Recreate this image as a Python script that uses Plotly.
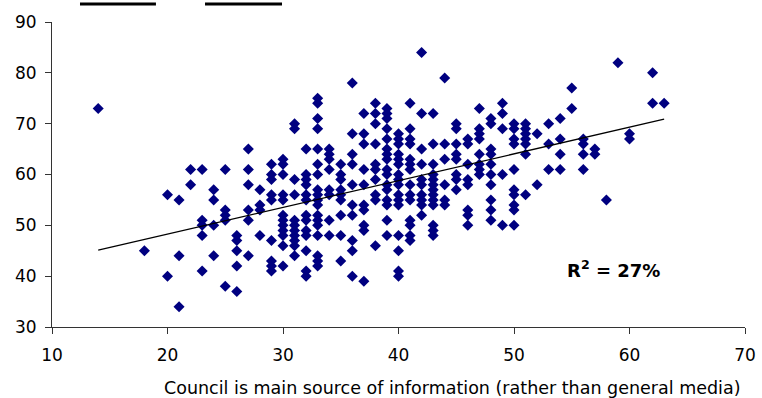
import plotly.graph_objects as go

# Scatter data: x value -> list of y values in that column
col_x = [14, 18, 20, 21, 22, 23, 24, 25, 26, 27, 28, 29, 30, 31, 32, 33, 34, 35, 36,
         37, 38, 39, 40, 41, 42, 43, 44, 45, 46, 47, 48, 49, 50, 51, 52, 53, 54, 55,
         56, 57, 58, 59, 60, 62, 63]
col_y = [
    [73],
    [45],
    [56, 40],
    [55, 44, 34],
    [61, 58],
    [61, 51, 50, 48, 41],
    [57, 55, 50, 44],
    [61, 53, 52, 51, 38],
    [48, 47, 45, 42, 37],
    [65, 61, 58, 53, 51, 44],
    [57, 54, 53, 48],
    [62, 60, 59, 56, 55, 47, 43, 42, 41],
    [63, 62, 60, 56, 55, 52, 51, 50, 49, 48, 46, 42],
    [70, 69, 59, 56, 51, 50, 49, 48, 47, 46, 44],
    [65, 60, 59, 58, 56, 55, 52, 51, 49, 48, 45, 41, 40],
    [75, 74, 71, 69, 65, 62, 60, 57, 56, 55, 54, 52, 51, 50, 48, 44, 43, 42],
    [65, 64, 63, 61, 57, 56, 51, 48],
    [62, 60, 59, 57, 56, 55, 52, 48, 43],
    [78, 68, 64, 62, 58, 54, 52, 47, 45, 40],
    [72, 68, 66, 61, 58, 54, 53, 50, 49, 39],
    [74, 72, 70, 66, 62, 61, 59, 56, 55, 46],
    [73, 72, 71, 69, 67, 65, 64, 63, 61, 60, 58, 57, 55, 54, 51, 48],
    [68, 67, 66, 64, 63, 62, 60, 59, 58, 56, 55, 54, 48, 45, 41, 40],
    [74, 69, 67, 66, 63, 62, 61, 58, 56, 55, 51, 50, 48, 47],
    [84, 72, 65, 62, 59, 58, 56, 55, 54, 52],
    [72, 66, 62, 60, 59, 58, 57, 56, 55, 54, 50, 49, 48],
    [79, 66, 63, 58, 55, 54],
    [70, 69, 66, 64, 63, 60, 59, 57],
    [67, 66, 62, 59, 58, 53, 52, 50],
    [73, 69, 68, 67, 64, 62, 61, 60],
    [71, 70, 65, 64, 62, 60, 58, 55, 53, 51],
    [74, 72, 69, 60, 50],
    [70, 69, 67, 66, 61, 57, 56, 54, 53, 50],
    [70, 69, 68, 67, 66, 64, 56],
    [68, 58],
    [70, 66, 61],
    [71, 67, 64, 61],
    [77, 73],
    [67, 66, 64, 61],
    [65, 64],
    [55],
    [82],
    [68, 67],
    [80, 74],
    [74],
]

# Linear trend line endpoints
trend_x = [14, 63]
trend_y = [45.1, 70.9]
r2_label = "R<sup>2</sup> = 27%"

x_ticks = [10, 20, 30, 40, 50, 60, 70]
y_ticks = [30, 40, 50, 60, 70, 80, 90]
x_title = "Council is main source of information (rather than general media)"

xs, ys = [], []
for cx, cys in zip(col_x, col_y):
    for cy in cys:
        xs.append(cx)
        ys.append(cy)

fig = go.Figure()
fig.add_trace(go.Scatter(
    x=xs, y=ys, mode="markers",
    marker=dict(symbol="diamond", size=8.5, color="#000080", line=dict(width=0)),
    showlegend=False, hoverinfo="skip", cliponaxis=False,
))
fig.add_trace(go.Scatter(
    x=trend_x, y=trend_y, mode="lines",
    line=dict(color="black", width=1.3),
    showlegend=False, hoverinfo="skip",
))

axis_common = dict(
    showgrid=False, zeroline=False, showline=True, linecolor="#333333", linewidth=1,
    ticks="outside", ticklen=6, tickcolor="#333333", tickwidth=1, automargin=False,
    tickfont=dict(family="DejaVu Sans", size=17, color="black"),
)
fig.update_xaxes(range=[10, 70], tickvals=x_ticks, ticklabelstandoff=7, **axis_common)
fig.update_yaxes(range=[30, 90], tickvals=y_ticks, ticklabelstandoff=5, **axis_common)

fig.add_annotation(
    x=0.5765, y=-0.2, xref="paper", yref="paper",
    text=x_title, showarrow=False, xanchor="center", yanchor="middle",
    font=dict(family="DejaVu Sans", size=17.5, color="black"),
)
fig.add_annotation(
    x=0.81, y=0.19, xref="paper", yref="paper",
    text="<b>" + r2_label + "</b>", showarrow=False, xanchor="center", yanchor="middle",
    font=dict(family="DejaVu Sans", size=18, color="black"),
)

# Underlines of the cut-off heading at the top
for x0, x1 in [(0.0404, 0.150), (0.2208, 0.3319)]:
    fig.add_shape(type="line", xref="paper", yref="paper", x0=x0, x1=x1,
                  y0=1.059, y1=1.059, line=dict(color="black", width=3))

fig.update_layout(
    width=762, height=398,
    margin=dict(l=52, r=17, t=22, b=71, autoexpand=False),
    plot_bgcolor="white", paper_bgcolor="white",
)

fig.write_html("out.html", config={"displayModeBar": False},
               post_script="document.body.style.margin='0';")
